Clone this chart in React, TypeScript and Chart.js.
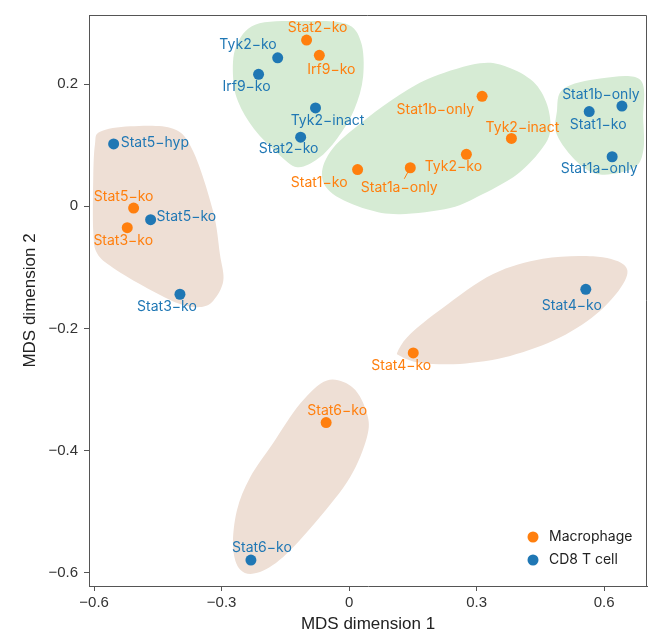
import React, { useEffect, useRef } from "react";
import { Chart, registerables } from "chart.js";
Chart.register(...registerables);

// ---- data ----
const seriesNames = ["Macrophage", "CD8 T cell"];

const macroLabels = ["Stat2−ko", "Irf9−ko", "Stat1−ko", "Stat5−ko", "Stat3−ko", "Stat1b−only", "Tyk2−inact", "Tyk2−ko", "Stat1a−only", "Stat4−ko", "Stat6−ko"];
const macroX = [-0.100, -0.070, 0.020, -0.507, -0.522, 0.313, 0.382, 0.276, 0.144, 0.151, -0.054];
const macroY = [0.272, 0.247, 0.060, -0.003, -0.035, 0.180, 0.111, 0.085, 0.063, -0.240, -0.354];

const cd8Labels = ["Tyk2−ko", "Irf9−ko", "Tyk2−inact", "Stat2−ko", "Stat5−hyp", "Stat5−ko", "Stat3−ko", "Stat1b−only", "Stat1−ko", "Stat1a−only", "Stat4−ko", "Stat6−ko"];
const cd8X = [-0.168, -0.213, -0.079, -0.114, -0.554, -0.467, -0.398, 0.642, 0.565, 0.619, 0.557, -0.231];
const cd8Y = [0.243, 0.216, 0.161, 0.113, 0.102, -0.022, -0.144, 0.164, 0.155, 0.081, -0.136, -0.579];

const xTicks = [-0.6, -0.3, 0, 0.3, 0.6];
const yTicks = [-0.6, -0.4, -0.2, 0, 0.2];

// cluster outlines (data units)
const greenTopX = [-0.273, -0.266, -0.221, -0.115, -0.009, 0.028, 0.033, 0.012, -0.028, -0.073, -0.122, -0.167, -0.224, -0.261];
const greenTopY = [0.212, 0.261, 0.297, 0.303, 0.299, 0.269, 0.212, 0.158, 0.111, 0.078, 0.064, 0.086, 0.127, 0.171];
const greenMidX = [0.308, 0.198, 0.120, 0.042, -0.038, -0.064, -0.038, 0.042, 0.120, 0.238, 0.315, 0.395, 0.449, 0.473, 0.466, 0.433, 0.372];
const greenMidY = [0.234, 0.212, 0.183, 0.144, 0.095, 0.052, 0.020, -0.005, -0.013, -0.003, 0.020, 0.052, 0.090, 0.122, 0.166, 0.204, 0.228];
const greenRightX = [0.504, 0.591, 0.685, 0.692, 0.692, 0.668, 0.591, 0.536, 0.489, 0.489];
const greenRightY = [0.192, 0.209, 0.207, 0.144, 0.090, 0.062, 0.052, 0.073, 0.117, 0.155];
const tanLeftX = [-0.586, -0.515, -0.414, -0.367, -0.320, -0.304, -0.296, -0.320, -0.351, -0.398, -0.475, -0.555, -0.593, -0.602, -0.602, -0.598];
const tanLeftY = [0.122, 0.131, 0.127, 0.090, -0.008, -0.078, -0.122, -0.155, -0.165, -0.160, -0.134, -0.101, -0.077, -0.041, 0.046, 0.101];
const tanStat4X = [0.115, 0.144, 0.221, 0.339, 0.456, 0.574, 0.645, 0.649, 0.591, 0.496, 0.379, 0.261, 0.167, 0.120];
const tanStat4Y = [-0.237, -0.209, -0.166, -0.111, -0.086, -0.082, -0.095, -0.122, -0.171, -0.215, -0.245, -0.258, -0.256, -0.245];
const tanStat6X = [-0.052, 0.009, 0.042, 0.042, 0.002, -0.075, -0.155, -0.216, -0.256, -0.273, -0.264, -0.233, -0.179, -0.115];
const tanStat6Y = [-0.285, -0.297, -0.339, -0.378, -0.444, -0.514, -0.574, -0.600, -0.595, -0.558, -0.498, -0.444, -0.388, -0.323];

// ---- styling / placement ----
const ORANGE = "#ff7f0e";
const BLUE = "#1f77b4";
const GREEN_FILL = "#d6ebd4";
const TAN_FILL = "#eedfd5";

const blobs = [
  { xs: greenTopX, ys: greenTopY, color: GREEN_FILL },
  { xs: greenMidX, ys: greenMidY, color: GREEN_FILL },
  { xs: greenRightX, ys: greenRightY, color: GREEN_FILL },
  { xs: tanLeftX, ys: tanLeftY, color: TAN_FILL },
  { xs: tanStat4X, ys: tanStat4Y, color: TAN_FILL },
  { xs: tanStat6X, ys: tanStat6Y, color: TAN_FILL },
];

// [dx, dy, align] pixel offsets of label anchor from point
const macroPlace: [number, number, CanvasTextAlign][] = [
  [11, -12, "center"], [12, 14, "center"], [-10, 13, "right"], [-10, -11, "center"], [-4, 13, "center"],
  [-8, 14, "right"], [11, -11, "center"], [-13, 12, "center"], [-11, 20, "center"], [-12, 13, "center"], [11, -12, "center"],
];
const cd8Place: [number, number, CanvasTextAlign][] = [
  [-1, -13, "right"], [-12, 13, "center"], [12, 13, "center"], [-12, 12, "center"], [7, -1.5, "left"],
  [6, -2.5, "left"], [-13, 13, "center"], [-21, -11, "center"], [9, 13, "center"], [-13, 12, "center"], [-14, 16, "center"], [11, -12, "center"],
];

const LABEL_FONT = "14px Inter, 'Noto Sans', sans-serif";

const fmt = (v: number) => (Math.abs(v) < 1e-9 ? "0" : (v < 0 ? "\u2212" : "") + Math.abs(v).toFixed(1));

const decorPlugin = {
  id: "decor",
  beforeDatasetsDraw(chart: any) {
    const { ctx, chartArea, scales } = chart;
    const sx = scales.x, sy = scales.y;
    ctx.save();
    ctx.beginPath();
    ctx.rect(chartArea.left, chartArea.top, chartArea.right - chartArea.left, chartArea.bottom - chartArea.top);
    ctx.clip();
    blobs.forEach((b) => {
      const pts = b.xs.map((vx, i) => [sx.getPixelForValue(vx), sy.getPixelForValue(b.ys[i])]);
      const n = pts.length;
      ctx.beginPath();
      ctx.moveTo(pts[0][0], pts[0][1]);
      for (let i = 0; i < n; i++) {
        const p0 = pts[(i - 1 + n) % n], p1 = pts[i], p2 = pts[(i + 1) % n], p3 = pts[(i + 2) % n];
        ctx.bezierCurveTo(
          p1[0] + (p2[0] - p0[0]) / 6, p1[1] + (p2[1] - p0[1]) / 6,
          p2[0] - (p3[0] - p1[0]) / 6, p2[1] - (p3[1] - p1[1]) / 6,
          p2[0], p2[1]
        );
      }
      ctx.closePath();
      ctx.fillStyle = b.color;
      ctx.fill();
    });
    ctx.restore();
  },
  afterDatasetsDraw(chart: any) {
    const { ctx, chartArea, scales } = chart;
    const sx = scales.x, sy = scales.y;
    ctx.save();
    ctx.font = LABEL_FONT;
    ctx.textBaseline = "middle";
    const drawSet = (labels: string[], xs: number[], ys: number[], place: [number, number, CanvasTextAlign][], color: string) => {
      labels.forEach((t, i) => {
        const px = sx.getPixelForValue(xs[i]);
        const py = sy.getPixelForValue(ys[i]);
        const [dx, dy, al] = place[i];
        ctx.fillStyle = color;
        ctx.textAlign = al;
        ctx.fillText(t, px + dx, py + dy);
      });
    };
    drawSet(macroLabels, macroX, macroY, macroPlace, ORANGE);
    drawSet(cd8Labels, cd8X, cd8Y, cd8Place, BLUE);

    // leader line for macrophage Stat1a-only
    const li = 8;
    const lx = sx.getPixelForValue(macroX[li]);
    const ly = sy.getPixelForValue(macroY[li]);
    ctx.strokeStyle = ORANGE;
    ctx.lineWidth = 1;
    ctx.beginPath();
    ctx.moveTo(lx, ly);
    ctx.lineTo(lx - 6, ly + 11);
    ctx.stroke();

    // legend
    const colors = [ORANGE, BLUE];
    seriesNames.forEach((name, i) => {
      const cx = chartArea.right - 114;
      const cy = chartArea.bottom - 49 + i * 23;
      ctx.fillStyle = colors[i];
      ctx.beginPath();
      ctx.arc(cx, cy, 5.5, 0, Math.PI * 2);
      ctx.fill();
      ctx.fillStyle = "#222";
      ctx.textAlign = "left";
      ctx.fillText(name, cx + 16, cy);
    });

    // frame
    ctx.strokeStyle = "#555";
    ctx.lineWidth = 1;
    ctx.beginPath();
    ctx.moveTo(chartArea.left, chartArea.top + 0.5);
    ctx.lineTo(chartArea.right - 0.5, chartArea.top + 0.5);
    ctx.lineTo(chartArea.right - 0.5, chartArea.bottom);
    ctx.stroke();
    ctx.restore();
  },
};

export default function App() {
  const ref = useRef<HTMLCanvasElement | null>(null);
  useEffect(() => {
    if (!ref.current) return;
    const chart = new Chart(ref.current, {
      type: "scatter",
      data: {
        datasets: [
          {
            label: seriesNames[0],
            data: macroX.map((x, i) => ({ x, y: macroY[i] })),
            backgroundColor: ORANGE,
            borderWidth: 0,
            pointRadius: 5.5,
          },
          {
            label: seriesNames[1],
            data: cd8X.map((x, i) => ({ x, y: cd8Y[i] })),
            backgroundColor: BLUE,
            borderWidth: 0,
            pointRadius: 5.5,
          },
        ],
      },
      options: {
        animation: false,
        responsive: false,
        layout: { padding: { top: 13, right: 9, left: 0, bottom: 0 } },
        plugins: { legend: { display: false }, tooltip: { enabled: false } },
        scales: {
          x: {
            type: "linear",
            min: -0.612,
            max: 0.701,
            afterBuildTicks: (s: any) => { s.ticks = xTicks.map((v) => ({ value: v })); },
            afterFit: (s: any) => { s.height = 50; },
            ticks: {
              callback: (v: any) => fmt(Number(v)),
              font: { family: "'Liberation Sans', Arial, sans-serif", size: 15 },
              color: "#333",
              padding: 3,
              maxRotation: 0,
              autoSkip: false,
            },
            grid: { drawOnChartArea: false, drawTicks: true, tickLength: 5, tickColor: "#555" },
            border: { color: "#555", width: 1 },
            title: {
              display: true,
              text: "MDS dimension 1",
              font: { family: "'Liberation Sans', Arial, sans-serif", size: 17 },
              color: "#222",
              padding: { top: 0, bottom: 1 },
            },
          },
          y: {
            type: "linear",
            min: -0.6215,
            max: 0.313,
            afterBuildTicks: (s: any) => { s.ticks = yTicks.map((v) => ({ value: v })); },
            afterFit: (s: any) => { s.width = 89; },
            ticks: {
              callback: (v: any) => fmt(Number(v)),
              font: { family: "'Liberation Sans', Arial, sans-serif", size: 15 },
              color: "#333",
              padding: 6,
              autoSkip: false,
            },
            grid: { drawOnChartArea: false, drawTicks: true, tickLength: 5, tickColor: "#555" },
            border: { color: "#555", width: 1 },
            title: {
              display: true,
              text: "MDS dimension 2",
              font: { family: "'Liberation Sans', Arial, sans-serif", size: 17 },
              color: "#222",
              padding: { top: 20, bottom: 0 },
            },
          },
        },
      },
      plugins: [decorPlugin],
    });
    return () => chart.destroy();
  }, []);
  return (
    <div style={{ position: "fixed", left: 0, top: 0, width: 656, height: 636, background: "#fff" }}>
      <canvas ref={ref} width={656} height={636} style={{ width: 656, height: 636, display: "block" }} />
    </div>
  );
}
